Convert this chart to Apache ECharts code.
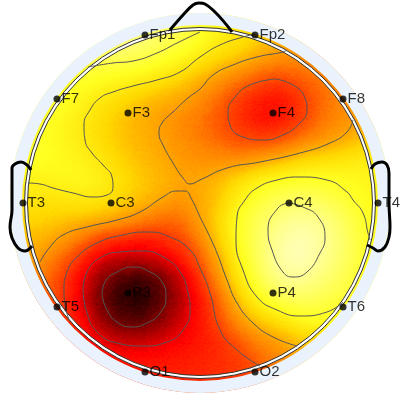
<!DOCTYPE html>
<html>
<head>
<meta charset="utf-8">
<style>html,body{margin:0;padding:0;background:#fff}#main{width:400px;height:400px}</style>
<script src="https://cdn.jsdelivr.net/npm/echarts@6/dist/echarts.min.js"></script>
</head>
<body>
<div id="main"></div>
<script>
// scalp field sampled every 20 units, rows top to bottom (0 = palest, 100 = black)
const fieldRows = [
  [20,20,20,20,20,20,18,20,24,28,33,38,40,44,48,50,52,52,52,52,52],
  [20,20,20,20,20,20,18,20,24,28,33,38,40,44,48,50,52,52,52,52,52],
  [20,20,20,20,20,20,18,20,24,28,33,38,40,44,48,50,52,52,52,52,52],
  [24,25,26,27,28,28,28,29,33,37,40,45,48,53,55,56,55,54,52,52,52],
  [30,30,31,32,33,35,37,39,41,45,50,54,58,62,65,60,58,55,52,50,50],
  [30,30,30,33,37,40,44,47,50,51,55,60,66,70,72,67,60,56,52,50,50],
  [31,31,33,36,39,43,47,50,52,56,58,62,67,72,72,65,58,55,52,50,50],
  [31,31,34,37,39,43,47,49,51,54,57,60,63,64,62,58,55,52,48,45,45],
  [31,31,33,35,37,40,45,48,50,53,54,55,55,52,50,44,42,40,38,37,37],
  [36,38,38,36,35,36,41,46,48,51,50,48,42,36,33,32,33,34,36,37,37],
  [40,40,41,41,39,40,44,47,49,54,50,47,36,30,26,24,26,30,35,37,37],
  [44,44,45,46,48,49,51,55,60,60,51,43,32,26,20,16,18,24,31,37,37],
  [47,47,49,52,58,65,68,70,68,64,57,44,33,24,15,11,15,22,30,38,38],
  [50,50,53,60,66,76,79,79,76,70,61,50,36,24,14,10,17,23,30,38,38],
  [52,52,58,63,73,85,93,97,90,80,66,53,40,28,17,17,22,26,32,38,38],
  [55,56,60,63,75,87,97,100,90,80,71,60,46,35,28,26,27,30,35,38,38],
  [56,56,58,63,71,83,90,92,85,78,70,62,52,46,42,34,33,36,40,42,42],
  [58,58,59,60,66,74,78,78,76,73,70,67,61,55,52,48,44,44,44,44,44],
  [60,60,62,64,66,68,70,70,70,69,68,67,65,60,56,52,50,50,50,50,50],
  [62,62,64,66,66,66,66,68,68,68,67,66,65,62,56,54,52,52,52,52,52],
  [62,62,64,66,66,66,66,68,68,68,67,66,65,62,56,54,52,52,52,52,52]
]
const fieldStep = 20

const electrodeNames = ['Fp1','Fp2','F7','F3','F4','F8','T3','C3','C4','T4','T5','P3','P4','T6','O1','O2']
const electrodeX = [145,255,57,128,273,343,23,111,289,378,57,128,273,343,145,255]
const electrodeY = [35,35,99,113,113,99,203,203,203,203,307,293,293,307,372,372]

const contourA = [[88,67],[113,63],[133,61],[157,53],[177,43],[200,32]]
const contourB = [[255,34],[243,37],[220,45],[200,57],[180,72],[157,80],[133,86],[113,92],[100,98],[90,110],[84,125],[85,140],[92,153],[103,165],[112,177],[113,187],[107,195],[93,197],[73,193],[53,188],[40,184],[28,183]]
const contourC = [[287,50],[283,52],[257,57],[233,65],[213,75],[200,89],[188,98],[173,112],[162,123],[159,133],[163,145],[173,163],[183,178],[190,184],[200,180],[227,168],[260,162],[300,153],[330,143],[347,132],[353,120]]
const contourD = [[275,79],[293,85],[305,98],[307,110],[300,123],[283,135],[263,140],[243,137],[230,125],[228,112],[235,97],[250,85],[275,79]]
const contourE = [[40,262],[50,247],[63,235],[87,227],[117,220],[140,212],[163,197],[177,191],[185,191],[192,200],[200,217],[208,233],[217,253],[227,280],[237,303],[253,323],[273,337],[297,346]]
const contourF = [[70,322],[65,305],[64,290],[67,272],[77,257],[97,243],[123,235],[147,232],[170,237],[190,250],[200,268],[210,293],[220,330],[237,350],[260,366]]
const contourG = [[83,290],[87,272],[100,258],[120,252],[143,251],[163,257],[180,272],[188,293],[190,310],[183,330],[167,342],[143,346],[117,343],[97,332],[87,313],[83,290]]
const contourH = [[102,295],[105,282],[117,272],[133,267],[150,272],[162,282],[166,297],[160,313],[147,323],[132,327],[117,322],[107,310],[102,295]]
const contourI = [[343,302],[327,312],[300,316],[277,310],[257,297],[243,270],[236,240],[237,217],[245,200],[257,188],[277,180],[300,177],[327,180],[347,192],[353,200],[363,213],[368,233],[370,240]]
const contourJ = [[289,203],[278,208],[268,230],[272,250],[283,272],[293,277],[307,272],[320,253],[325,238],[318,217],[303,207],[289,203]]
const contours = [contourA, contourB, contourC, contourD, contourE, contourF, contourG, contourH, contourI, contourJ]

const noseLine = [[170,30],[183,15],[193,5],[199,3],[205,4],[232,32]]
const leftEar = [[31,170],[27,165],[21,162],[15,164],[12,168],[12,183],[12,210],[10,227],[12,238],[18,248],[25,251],[32,246]]
const rightEar = [[371,169],[375,164],[382,162],[387,165],[389,173],[389,203],[390,227],[389,237],[385,247],[378,251],[373,248],[367,245]]

// evenly spaced alpha stops, so the colours bunch up towards the low end
const rampColors = ['#ffffff','#ffffdd','#ffffb7','#ffff8c','#ffff5a','#ffff20','#ffd800','#ff8000','#ff0000','#1f0000','#000000']

const fieldData = []
fieldRows.forEach((row, r) => {
  row.forEach((v, c) => {
    fieldData.push([c * fieldStep, -r * fieldStep, v])
  })
})

echarts.registerMap('scalp', {
  type: 'FeatureCollection',
  features: [{
    type: 'Feature',
    properties: { name: 'scalp' },
    geometry: { type: 'Polygon', coordinates: [[[0,0],[400,0],[400,-400],[0,-400],[0,0]]] },
  }],
})

const chart = echarts.init(document.getElementById('main'))

const outline = (points) => ({
  type: 'line',
  data: points,
  smooth: 0.4,
  showSymbol: false,
  silent: true,
  z: 5,
  lineStyle: { color: '#000', width: 3 },
})

chart.setOption({
  animation: false,
  backgroundColor: '#fff',
  geo: {
    map: 'scalp',
    left: 0,
    top: 0,
    width: 400,
    height: 400,
    aspectScale: 1,
    silent: true,
    label: { show: false },
    itemStyle: { areaColor: 'transparent', borderColor: 'transparent', borderWidth: 0 },
  },
  grid: { left: 0, top: 0, width: 400, height: 400 },
  xAxis: { type: 'value', min: 0, max: 400, show: false },
  yAxis: { type: 'value', min: 0, max: 400, inverse: true, show: false },
  visualMap: {
    show: false,
    seriesIndex: 0,
    min: 0,
    max: 100,
    inRange: { color: rampColors },
  },
  graphic: [
    { type: 'ring', silent: true, z: 3, shape: { cx: 200, cy: 203, r: 320, r0: 190 }, style: { fill: '#fff' } },
    { type: 'ring', silent: true, z: 3, shape: { cx: 200, cy: 203, r: 190, r0: 178 }, style: { fill: '#eaf3fd' } },
    { type: 'ring', silent: true, z: 4, shape: { cx: 200, cy: 203, r: 175.5, r0: 172.5 }, style: { fill: '#fff', stroke: '#333', lineWidth: 1 } },
  ],
  series: [
    {
      type: 'heatmap',
      coordinateSystem: 'geo',
      data: fieldData,
      pointSize: 16,
      blurSize: 24,
      minOpacity: 1,
      maxOpacity: 1,
      z: 1,
    },
    ...contours.map((points) => ({
      type: 'line',
      data: points,
      smooth: 0.5,
      showSymbol: false,
      silent: true,
      z: 4,
      lineStyle: { color: '#555', width: 1 },
    })),
    outline(noseLine),
    outline(leftEar),
    outline(rightEar),
    {
      type: 'scatter',
      data: electrodeNames.map((name, i) => ({ name, value: [electrodeX[i], electrodeY[i]] })),
      symbolSize: 7,
      silent: true,
      z: 6,
      itemStyle: { color: '#000' },
      label: {
        show: true,
        position: 'right',
        distance: 1,
        formatter: '{b}',
        color: '#000',
        fontSize: 15,
        fontFamily: 'Liberation Sans',
      },
    },
  ],
})
</script>
</body>
</html>
